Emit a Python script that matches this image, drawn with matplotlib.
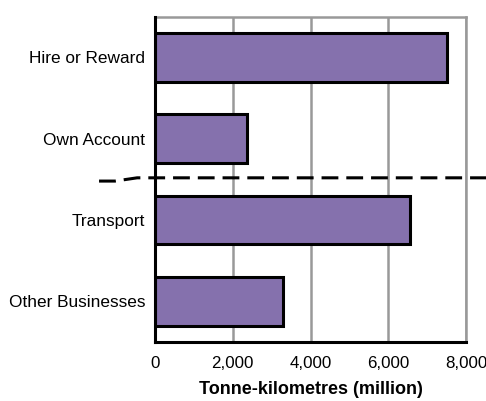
import matplotlib
matplotlib.use('Agg')
import matplotlib.pyplot as plt

categories = ['Hire or Reward', 'Own Account', 'Transport', 'Other Businesses']
values = [7500, 2370, 6560, 3290]
xticks = [0, 2000, 4000, 6000, 8000]
xticklabels = ['0', '2,000', '4,000', '6,000', '8,000']

plt.rcParams['font.family'] = ['Liberation Sans', 'DejaVu Sans']

fig = plt.figure(figsize=(4.86, 4.01), dpi=100)
ax = fig.add_axes([0.319, 0.147, 0.64, 0.811])

ax.barh(range(len(categories)), values, height=0.6, color='#8571ad',
        edgecolor='black', linewidth=2.2, zorder=3)

ax.set_xlim(0, 8000)
ax.set_ylim(3.5, -0.5)
ax.set_yticks(range(len(categories)))
ax.set_yticklabels(categories, fontsize=12.4)
ax.set_xticks(xticks)
ax.set_xticklabels(xticklabels, fontsize=12.2)
ax.tick_params(length=0)
ax.tick_params(axis='y', pad=7)
ax.tick_params(axis='x', pad=10)

ax.grid(axis='x', color='#999999', linewidth=1.8, zorder=1)
for s in ['top', 'right']:
    ax.spines[s].set_color('#999999')
    ax.spines[s].set_linewidth(1.8)
for s in ['left', 'bottom']:
    ax.spines[s].set_color('black')
    ax.spines[s].set_linewidth(2.2)
    ax.spines[s].set_zorder(4)

ax.set_xlabel('Tonne-kilometres (million)', fontsize=13, fontweight='bold', labelpad=7)

# separator between the two groups, running out past the axes
ax.plot([-1440, -1030, -460, 8520], [1.52, 1.52, 1.48, 1.48], color='black',
        linewidth=2.2, dashes=(5.5, 2.6), clip_on=False, zorder=5)

fig.savefig('out.png', dpi=100)
